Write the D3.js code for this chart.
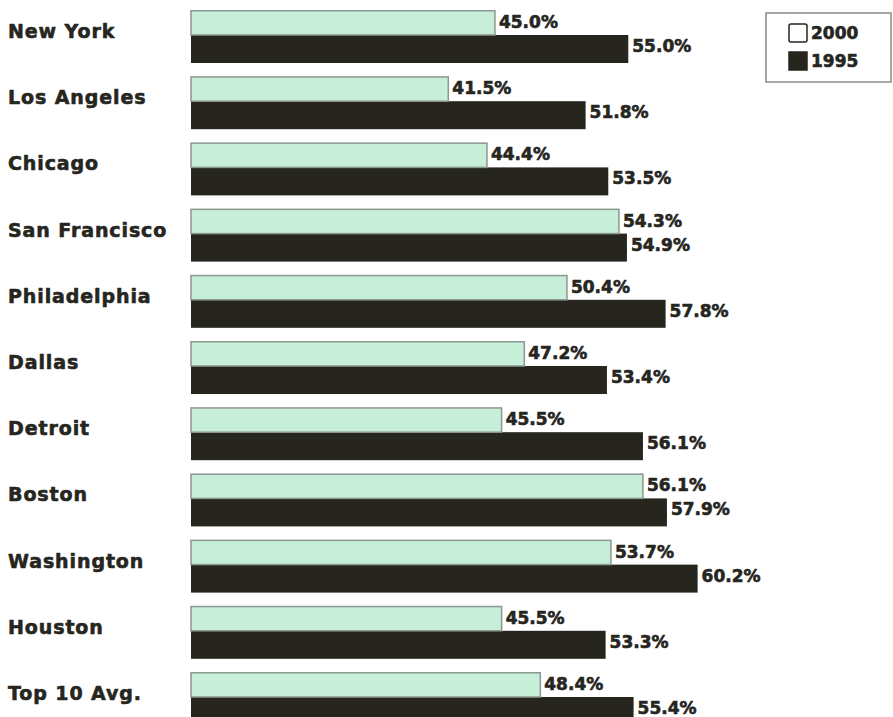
<!DOCTYPE html>
<html>
<head>
<meta charset="utf-8">
<script src="https://cdn.jsdelivr.net/npm/d3@7"></script>
<style>
  html, body { margin: 0; padding: 0; background: #fff; }
  svg { display: block; }
</style>
</head>
<body>
<svg id="chart" width="893" height="717"></svg>
<script>
const categories = ["New York", "Los Angeles", "Chicago", "San Francisco", "Philadelphia", "Dallas", "Detroit", "Boston", "Washington", "Houston", "Top 10 Avg."];
const values2000 = [45.0, 41.5, 44.4, 54.3, 50.4, 47.2, 45.5, 56.1, 53.7, 45.5, 48.4];
const values1995 = [55.0, 51.8, 53.5, 54.9, 57.8, 53.4, 56.1, 57.9, 60.2, 53.3, 55.4];
const seriesNames = ["2000", "1995"];

const svg = d3.select("#chart");
const ink = "#26261f";
const mint = "#c6eed9";
const font = "'DejaVu Sans', sans-serif";

const x = d3.scaleLinear().domain([22.2, 60.2]).range([191, 697.6]);
const y = d3.scaleBand().domain(categories).range([10, 10 + 66.2 * categories.length]).padding(0);

const lightH = 25, darkH = 28;

const rows = svg.selectAll("g.row")
  .data(categories.map((c, i) => ({ c, v0: values2000[i], v1: values1995[i] })))
  .join("g")
  .attr("class", "row")
  .attr("transform", d => `translate(0,${y(d.c)})`);

// dark (1995) bar
rows.append("rect")
  .attr("x", x(22.2))
  .attr("y", lightH)
  .attr("width", d => x(d.v1) - x(22.2))
  .attr("height", darkH)
  .attr("fill", ink);

// light (2000) bar
rows.append("rect")
  .attr("x", x(22.2))
  .attr("y", 0.75)
  .attr("width", d => x(d.v0) - x(22.2))
  .attr("height", lightH - 0.75)
  .attr("fill", mint)
  .attr("stroke", "#8c978f")
  .attr("stroke-width", 1.5);

function heavy(sel, size) {
  return sel.attr("font-family", font)
    .attr("font-weight", "bold")
    .attr("font-size", size)
    .attr("fill", ink)
    .attr("stroke", ink)
    .attr("stroke-width", 0.6)
    .attr("stroke-linejoin", "round");
}

// city labels
heavy(rows.append("text"), 19)
  .attr("x", 8)
  .attr("y", lightH + 3)
  .attr("letter-spacing", 0.9)
  .text(d => d.c);

// value labels 2000
heavy(rows.append("text"), 17)
  .attr("x", d => x(d.v0) + 4)
  .attr("y", lightH - 7)
  .text(d => d3.format(".1f")(d.v0) + "%");

// value labels 1995
heavy(rows.append("text"), 17)
  .attr("x", d => x(d.v1) + 4)
  .attr("y", lightH + 17)
  .text(d => d3.format(".1f")(d.v1) + "%");

// legend
const lg = svg.append("g").attr("transform", "translate(766,13)");
lg.append("rect")
  .attr("x", 0).attr("y", 0).attr("width", 125).attr("height", 69)
  .attr("fill", "#fff").attr("stroke", "#8a8a8a").attr("stroke-width", 1.5);
seriesNames.forEach((s, i) => {
  const g = lg.append("g").attr("transform", `translate(23,${11 + i * 28})`);
  g.append("rect")
    .attr("x", 0).attr("y", 0).attr("width", 18).attr("height", 18)
    .attr("rx", i === 0 ? 2 : 0)
    .attr("fill", i === 0 ? "#fff" : ink)
    .attr("stroke", ink).attr("stroke-width", 1.5);
  heavy(g.append("text"), 17)
    .attr("x", 22).attr("y", 15)
    .text(s);
});
</script>
</body>
</html>
